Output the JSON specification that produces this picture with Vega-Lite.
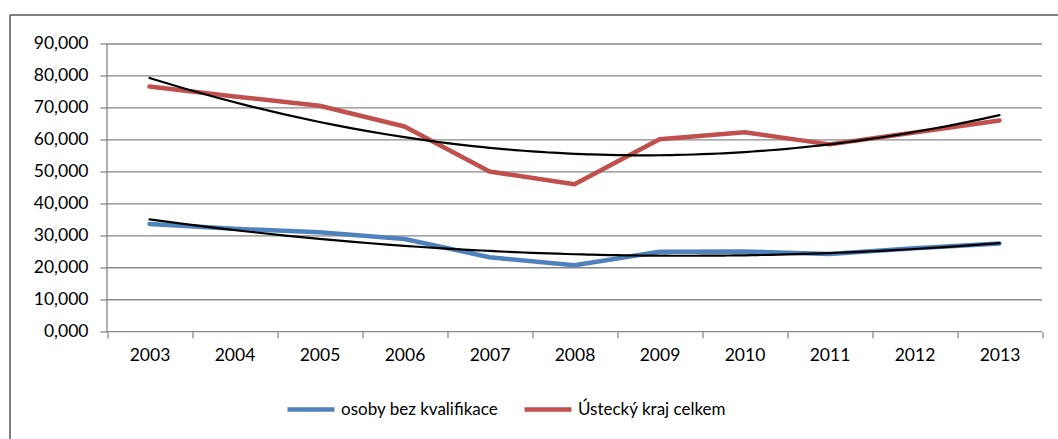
{
  "$schema": "https://vega.github.io/schema/vega-lite/v6.json",
  "autosize": {"type": "none"},
  "padding": {"left": 9.5, "top": 14.5, "right": 0, "bottom": 0},
  "width": 1052,
  "height": 428,
  "background": "white",
  "config": {
    "view": {"stroke": "#000000", "strokeWidth": 1},
    "font": "Lato",
    "axis": {"labelFont": "Lato", "labelFontSize": 17.5, "labelColor": "#000000", "grid": false, "domain": false},
    "legend": {"labelFont": "Lato", "labelFontSize": 17, "labelColor": "#000000", "labelLimit": 400}
  },
  "datasets": {
    "series": [
      {"year": 2003, "series": "osoby bez kvalifikace", "value": 33700},
      {"year": 2004, "series": "osoby bez kvalifikace", "value": 32200},
      {"year": 2005, "series": "osoby bez kvalifikace", "value": 31100},
      {"year": 2006, "series": "osoby bez kvalifikace", "value": 29000},
      {"year": 2007, "series": "osoby bez kvalifikace", "value": 23300},
      {"year": 2008, "series": "osoby bez kvalifikace", "value": 20800},
      {"year": 2009, "series": "osoby bez kvalifikace", "value": 25000},
      {"year": 2010, "series": "osoby bez kvalifikace", "value": 25100},
      {"year": 2011, "series": "osoby bez kvalifikace", "value": 24300},
      {"year": 2012, "series": "osoby bez kvalifikace", "value": 26100},
      {"year": 2013, "series": "osoby bez kvalifikace", "value": 27600},
      {"year": 2003, "series": "Ústecký kraj celkem", "value": 76700},
      {"year": 2004, "series": "Ústecký kraj celkem", "value": 73600},
      {"year": 2005, "series": "Ústecký kraj celkem", "value": 70700},
      {"year": 2006, "series": "Ústecký kraj celkem", "value": 64200},
      {"year": 2007, "series": "Ústecký kraj celkem", "value": 50100},
      {"year": 2008, "series": "Ústecký kraj celkem", "value": 46100},
      {"year": 2009, "series": "Ústecký kraj celkem", "value": 60200},
      {"year": 2010, "series": "Ústecký kraj celkem", "value": 62400},
      {"year": 2011, "series": "Ústecký kraj celkem", "value": 58600},
      {"year": 2012, "series": "Ústecký kraj celkem", "value": 62300},
      {"year": 2013, "series": "Ústecký kraj celkem", "value": 66100}
    ],
    "gridlines": [
      {"v": 0}, {"v": 10000}, {"v": 20000}, {"v": 30000}, {"v": 40000},
      {"v": 50000}, {"v": 60000}, {"v": 70000}, {"v": 80000}, {"v": 90000}
    ]
  },
  "layer": [
    {
      "data": {"name": "gridlines"},
      "mark": {"type": "rule", "color": "#888888", "strokeWidth": 1.3},
      "encoding": {
        "y": {"field": "v", "type": "quantitative", "scale": {"domain": [-34661, 99228], "nice": false, "zero": false}, "title": null,
              "axis": {"values": [0, 10000, 20000, 30000, 40000, 50000, 60000, 70000, 80000, 90000], "offset": -97.5, "tickSize": 7, "tickColor": "#888888", "tickWidth": 1.3, "labelPadding": 12, "labelExpr": "datum.value == 0 ? '0,000' : format(datum.value, ',')"}},
        "x": {"datum": 2002.5, "type": "quantitative", "scale": {"domain": [2001.35294, 2013.72941], "nice": false, "zero": false},
              "axis": {"values": [2002.5, 2003.5, 2004.5, 2005.5, 2006.5, 2007.5, 2008.5, 2009.5, 2010.5, 2011.5, 2012.5, 2013.5], "offset": -110.8, "tickSize": 6, "tickColor": "#888888", "tickWidth": 1.3, "labelOffset": 42.5, "labelPadding": 9, "labelFlush": false, "labelOverlap": false, "labelBound": false, "labelExpr": "datum.value < 2013 ? format(datum.value + 0.5, 'd') : ''"}, "title": null},
        "x2": {"datum": 2013.5}
      }
    },
    {
      "data": {"name": "gridlines"},
      "transform": [{"filter": "datum.v == 0"}],
      "mark": {"type": "rule", "color": "#888888", "strokeWidth": 1.3},
      "encoding": {
        "x": {"datum": 2002.5, "type": "quantitative", "title": null},
        "y": {"datum": 0, "type": "quantitative", "title": null},
        "y2": {"datum": 90000}
      }
    },
    {
      "data": {"name": "series"},
      "mark": {"type": "line", "strokeWidth": 4.5, "strokeJoin": "round", "strokeCap": "round"},
      "encoding": {
        "x": {"field": "year", "type": "quantitative", "title": null},
        "y": {"field": "value", "type": "quantitative", "title": null},
        "color": {"field": "series", "type": "nominal",
                  "scale": {"domain": ["osoby bez kvalifikace", "Ústecký kraj celkem"], "range": ["#4F81BD", "#C0504D"]},
                  "legend": {"orient": "none", "legendX": 275.5, "legendY": 369, "direction": "horizontal", "title": null,
                             "symbolType": "stroke", "symbolSize": 2209, "symbolStrokeWidth": 4.5, "labelOffset": 4, "columnPadding": 16}}
      }
    },
    {
      "data": {"name": "series"},
      "transform": [{"regression": "value", "on": "year", "groupby": ["series"], "method": "poly", "order": 2, "extent": [2003, 2013]}],
      "mark": {"type": "line", "color": "#000000", "strokeWidth": 2.2, "strokeCap": "round"},
      "encoding": {
        "x": {"field": "year", "type": "quantitative", "title": null},
        "y": {"field": "value", "type": "quantitative", "title": null},
        "detail": {"field": "series", "type": "nominal"}
      }
    }
  ]
}
